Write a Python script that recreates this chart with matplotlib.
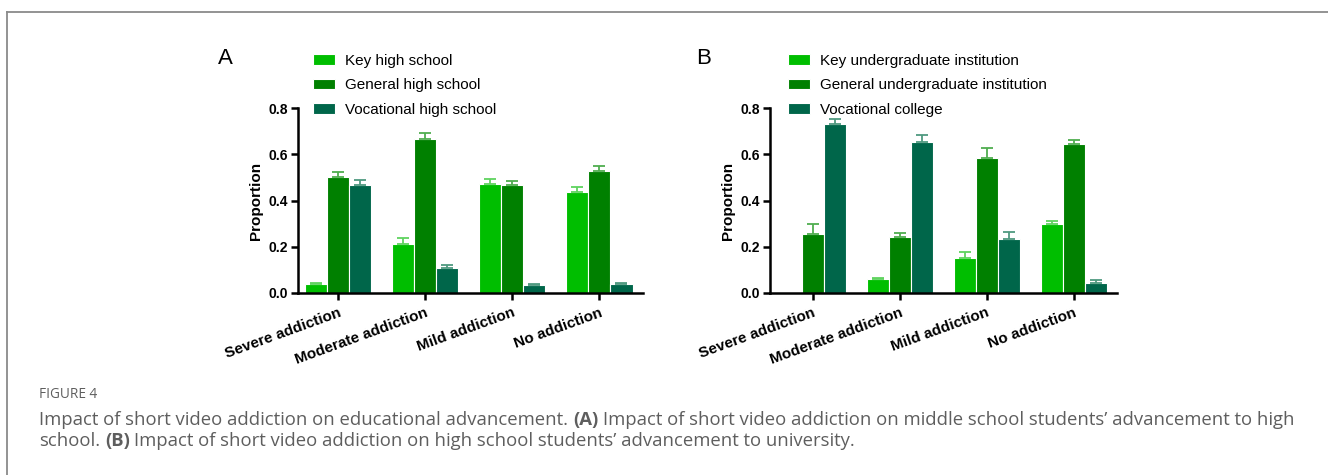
import numpy as np
import matplotlib.pyplot as plt
from matplotlib.lines import Line2D

plt.rcParams['font.family'] = ['Liberation Sans', 'DejaVu Sans']

# Données
categories = ['Severe addiction', 'Moderate addiction', 'Mild addiction', 'No addiction']

a_labels = ['Key high school', 'General high school', 'Vocational high school']
a_key = [0.037, 0.21, 0.47, 0.437]
a_key_err = [0.007, 0.029, 0.022, 0.021]
a_general = [0.503, 0.665, 0.466, 0.529]
a_general_err = [0.02, 0.025, 0.02, 0.02]
a_vocational = [0.466, 0.109, 0.034, 0.038]
a_vocational_err = [0.023, 0.012, 0.003, 0.004]

b_labels = ['Key undergraduate institution', 'General undergraduate institution', 'Vocational college']
b_key = [0.0, 0.06, 0.15, 0.30]
b_key_err = [0.0, 0.006, 0.026, 0.013]
b_general = [0.254, 0.241, 0.585, 0.643]
b_general_err = [0.043, 0.02, 0.043, 0.02]
b_vocational = [0.73, 0.654, 0.233, 0.045]
b_vocational_err = [0.021, 0.028, 0.031, 0.011]

# Couleurs
bar_colors = ['#00be00', '#008000', '#00664a']
err_colors = ['#5fd35f', '#4fae4f', '#4f9a80']

W, H = 1328, 475
fig = plt.figure(figsize=(W / 100, H / 100), dpi=100)


def px_axes(x0, x1, y_top, y_bot):
    return fig.add_axes([x0 / W, 1 - y_bot / H, (x1 - x0) / W, (y_bot - y_top) / H])


def draw_panel(ax, series, errors, labels, xlim, leg_x, letter, letter_x):
    x = np.arange(len(categories))
    step = 0.253
    for i, (vals, errs) in enumerate(zip(series, errors)):
        pos = x + (i - 1) * step
        vals = np.array(vals)
        errs = np.array(errs)
        ax.bar(pos, vals, width=step, color=bar_colors[i], edgecolor='white',
               linewidth=0.8, label=labels[i], zorder=2)
        m = vals > 0
        ax.errorbar(pos[m], vals[m], yerr=[np.zeros(m.sum()), errs[m]], fmt='none',
                    ecolor=err_colors[i], elinewidth=1.3, capsize=4, capthick=1.3, zorder=3)
    ax.set_xlim(*xlim)
    ax.set_ylim(0, 0.8)
    ax.set_yticks([0.0, 0.2, 0.4, 0.6, 0.8])
    ax.set_yticklabels(['0.0', '0.2', '0.4', '0.6', '0.8'], fontweight='bold', fontsize=10)
    ax.set_xticks(x)
    ax.set_xticklabels(categories, fontweight='bold', fontsize=11, rotation=20,
                       ha='right', rotation_mode='anchor')
    ax.set_ylabel('Proportion', fontweight='bold', fontsize=11, labelpad=4)
    for s in ['top', 'right']:
        ax.spines[s].set_visible(False)
    for s in ['left', 'bottom']:
        ax.spines[s].set_linewidth(1.8)
    ax.tick_params(axis='both', width=1.8, length=5, direction='out', pad=2)
    ax.tick_params(axis='x', pad=4)
    ax.legend(loc='upper left', bbox_to_anchor=(leg_x / W, 1 - 54 / H),
              bbox_transform=fig.transFigure, frameon=False, fontsize=11,
              handlelength=1.45, handleheight=0.7, handletextpad=0.65,
              labelspacing=0.68, borderpad=0, borderaxespad=0)
    fig.text(letter_x / W, 1 - 64 / H, letter, fontsize=16, ha='left', va='baseline')


ax_a = px_axes(298, 643, 108, 293)
draw_panel(ax_a, [a_key, a_general, a_vocational],
           [a_key_err, a_general_err, a_vocational_err],
           a_labels, (-0.46, 3.5), 313, 'A', 218)

ax_b = px_axes(770, 1117, 108, 293)
draw_panel(ax_b, [b_key, b_general, b_vocational],
           [b_key_err, b_general_err, b_vocational_err],
           b_labels, (-0.49, 3.5), 788, 'B', 696)

# Cadre
fig.add_artist(Line2D([7 / W, 7 / W], [0, 1 - 12 / H], color='#8a8a8a', lw=1.3))
fig.add_artist(Line2D([7 / W, 1], [1 - 12 / H, 1 - 12 / H], color='#8a8a8a', lw=1.3))

# Légende de la figure
cap_color = '#5e5e5e'
cap_font = 'Open Sans'
cap_size = 13.3
cap_x = 39
fig.text(cap_x / W, 1 - 398 / H, 'FIGURE 4', fontsize=9.8, color=cap_color, family=cap_font)

renderer = fig.canvas.get_renderer()


def space_w(size):
    t1 = fig.text(0, 0, 'x x', fontsize=size, family=cap_font)
    t2 = fig.text(0, 0, 'xx', fontsize=size, family=cap_font)
    w = t1.get_window_extent(renderer).width - t2.get_window_extent(renderer).width
    t1.remove()
    t2.remove()
    return w


sp = space_w(cap_size)


def rich(x_px, y_px, parts, size):
    x = x_px
    for txt, bold in parts:
        t = fig.text(x / W, 1 - y_px / H, txt.strip(), fontsize=size, color=cap_color,
                     family=cap_font, fontweight='bold' if bold else 'normal', va='baseline')
        bb = t.get_window_extent(renderer)
        x = bb.x1 + (sp if txt.endswith(' ') else 0)


rich(cap_x, 425, [('Impact of short video addiction on educational advancement. ', False),
                  ('(A) ', True),
                  ('Impact of short video addiction on middle school students\u2019 advancement to high', False)],
     cap_size)
rich(cap_x, 446, [('school. ', False), ('(B) ', True),
                  ('Impact of short video addiction on high school students\u2019 advancement to university.', False)],
     cap_size)

fig.savefig('out.png', dpi=100)
